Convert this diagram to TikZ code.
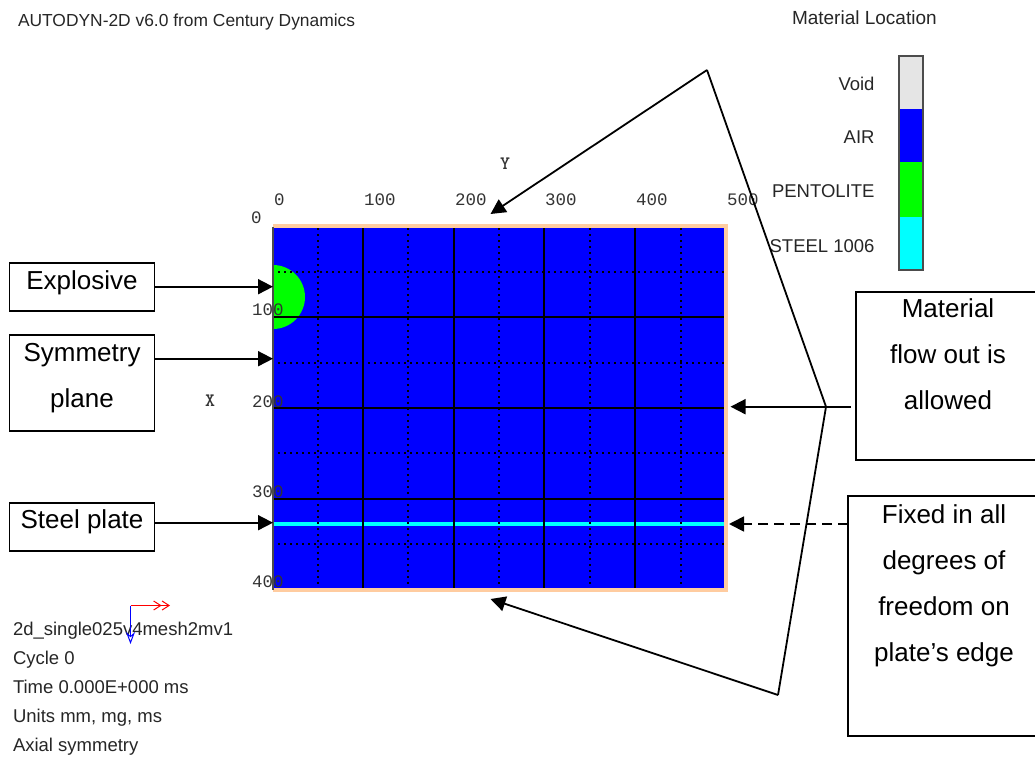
\documentclass[tikz,border=0pt]{standalone}
\usepackage{fontspec}
\setmainfont{Liberation Sans}
\newfontfamily\tickfam{Liberation Mono}
\usetikzlibrary{arrows.meta}
\definecolor{peach}{RGB}{255,204,160}
\definecolor{airblue}{RGB}{0,0,255}
\definecolor{pentgreen}{RGB}{0,255,0}
\definecolor{steelcyan}{RGB}{0,255,255}
\definecolor{voidgray}{RGB}{229,229,229}

\begin{document}
\begin{tikzpicture}[x=1pt, y=-1pt,
    every node/.style={inner sep=0pt, outer sep=0pt},
    labelbox/.style={draw=black, line width=1.5pt, anchor=north west, align=center,
      font=\fontsize{26}{46}\selectfont},
    tinylab/.style={anchor=base west, text=black!85, font=\fontsize{18.5}{20}\selectfont},
    keylab/.style={anchor=base east, text=black!85, font=\fontsize{18.5}{20}\selectfont},
    ticklab/.style={anchor=base west, text=black!80, font=\fontsize{17.5}{20}\tickfam},
    axislab/.style={anchor=base, text=black!80, font=\fontsize{19}{20}\ttfamily\bfseries},
    pointer/.style={line width=1.8pt, -{Triangle[length=15pt,width=15pt]}},
    leader/.style={line width=1.8pt}]
  % page is 1035 x 760, one unit is one pixel, y runs downward
  \path[use as bounding box, clip] (0,0) rectangle (1035,760);

  % ---------------- plate and mesh ----------------
  \fill[peach] (273,224) rectangle (728,592);
  \fill[airblue] (273,228) rectangle (724,588);
  \fill[pentgreen] (273,329) arc (90:-90:32) -- cycle;
  \fill[steelcyan] (273,522) rectangle (724,526);

  \foreach \x in {363, 454, 544, 635} {
    \draw[line width=1.2pt, black] (\x,228) -- (\x,588);
  }
  \foreach \y in {317, 408, 499} {
    \draw[line width=1.2pt, black] (273,\y) -- (724,\y);
  }
  \foreach \x in {318, 408, 499, 590, 681} {
    \draw[line width=1.2pt, black, dash pattern=on 1.5pt off 4.5pt] (\x,228) -- (\x,588);
  }
  \foreach \y in {272, 363, 453, 544} {
    \draw[line width=1.2pt, black, dash pattern=on 1.5pt off 4.5pt] (278,\y) -- (724,\y);
  }
  \draw[line width=1.5pt, black!70] (273,227) -- (273,590);

  % axis numbers
  \foreach \x/\lab in {274/0, 364/100, 455/200, 545/300, 636/400, 727/500} {
    \node[ticklab] (top\lab) at (\x,205) {\lab};
  }
  \foreach \x/\y/\lab in {251/223/0, 252/315/100, 252/407/200, 252/497/300, 252/587/400} {
    \node[ticklab] (side\lab) at (\x,\y) {\lab};
  }
  \node[axislab] (axisY) at (505,169) {Y};
  \node[axislab] (axisX) at (210,406) {X};

  % ---------------- header and run data ----------------
  \node[tinylab, font=\fontsize{17.4}{20}\selectfont] (title) at (18,26.5) {AUTODYN-2D v6.0 from Century Dynamics};
  \node[tinylab, font=\fontsize{19}{20}\selectfont] (keytitle) at (792,25) {Material Location};
  \foreach \y/\txt in {635/2d\_single025v4mesh2mv1, 664/Cycle 0, 693/Time 0.000E+000 ms,
      722/{Units mm, mg, ms}, 751/Axial symmetry} {
    \node[tinylab] (run\y) at (13,\y) {\txt};
  }

  % small axes symbol
  \draw[red, line width=1pt, -{Straight Barb[length=7pt,width=9pt]Straight Barb[length=7pt,width=9pt]}] (130.5,605.5) -- (170,605.5);
  \draw[airblue, line width=1pt, -{Stealth[length=12pt,width=9pt,open]}] (130.5,605.5) -- (130.5,644);

  % ---------------- material key ----------------
  \fill[voidgray] (899,56) rectangle (923,109);
  \fill[airblue] (899,109) rectangle (923,162);
  \fill[pentgreen] (899,162) rectangle (923,216.5);
  \fill[steelcyan] (899,216.5) rectangle (923,270);
  \draw[line width=1.2pt, black!70] (899,56) rectangle (923,270);
  \foreach \y/\txt in {90/Void, 143/AIR, 197/PENTOLITE, 252/STEEL 1006} {
    \node[keylab] (key\y) at (874.5,\y) {\txt};
  }

  % ---------------- callout boxes ----------------
  \node[labelbox, minimum width=145pt, text height=26pt, text depth=22pt] (explosive) at (9.5,263) {Explosive};
  \node[labelbox, minimum width=145pt, text height=72pt, text depth=24pt] (symmetry) at (9.5,335) {Symmetry\\plane};
  \node[labelbox, minimum width=145pt, text height=25pt, text depth=23pt] (steel) at (9.5,503) {Steel plate};
  \node[labelbox, minimum width=184pt, text height=117pt, text depth=51pt] (outflow) at (856,292) {Material\\flow out is\\allowed};
  \node[labelbox, minimum width=192pt, text height=165pt, text depth=75pt] (fixedge) at (848,496) {Fixed in all\\degrees of\\freedom on\\plate’s edge};

  % free ends of the connectors
  \coordinate (tipExpl) at (273,286.7);
  \coordinate (tipSym) at (273,358.7);
  \coordinate (tipSteel) at (273,522.7);
  \coordinate (tipFlow) at (730.5,406.7);
  \coordinate (tipFix) at (729,524);
  \coordinate (tipTop) at (490.5,214);
  \coordinate (tipBot) at (490.5,599);
  \coordinate (tailFlow) at (851,406.7);
  \coordinate (joint) at (826,406.7);
  \coordinate (apexTop) at (707,70);
  \coordinate (apexBot) at (778,695);

  \draw[pointer] (explosive.east |- tipExpl) -- (tipExpl);
  \draw[pointer] (symmetry.east |- tipSym) -- (tipSym);
  \draw[pointer] (steel.east |- tipSteel) -- (tipSteel);
  \draw[pointer] (tailFlow) -- (tipFlow);
  \draw[pointer, dash pattern=on 10pt off 6pt] (fixedge.west |- tipFix) -- (tipFix);

  % one leader from the joint up and one down, both to the free edges
  \draw[leader] (joint) -- (apexTop);
  \draw[pointer] (apexTop) -- (tipTop);
  \draw[leader] (joint) -- (apexBot);
  \draw[pointer] (apexBot) -- (tipBot);
\end{tikzpicture}
\end{document}
